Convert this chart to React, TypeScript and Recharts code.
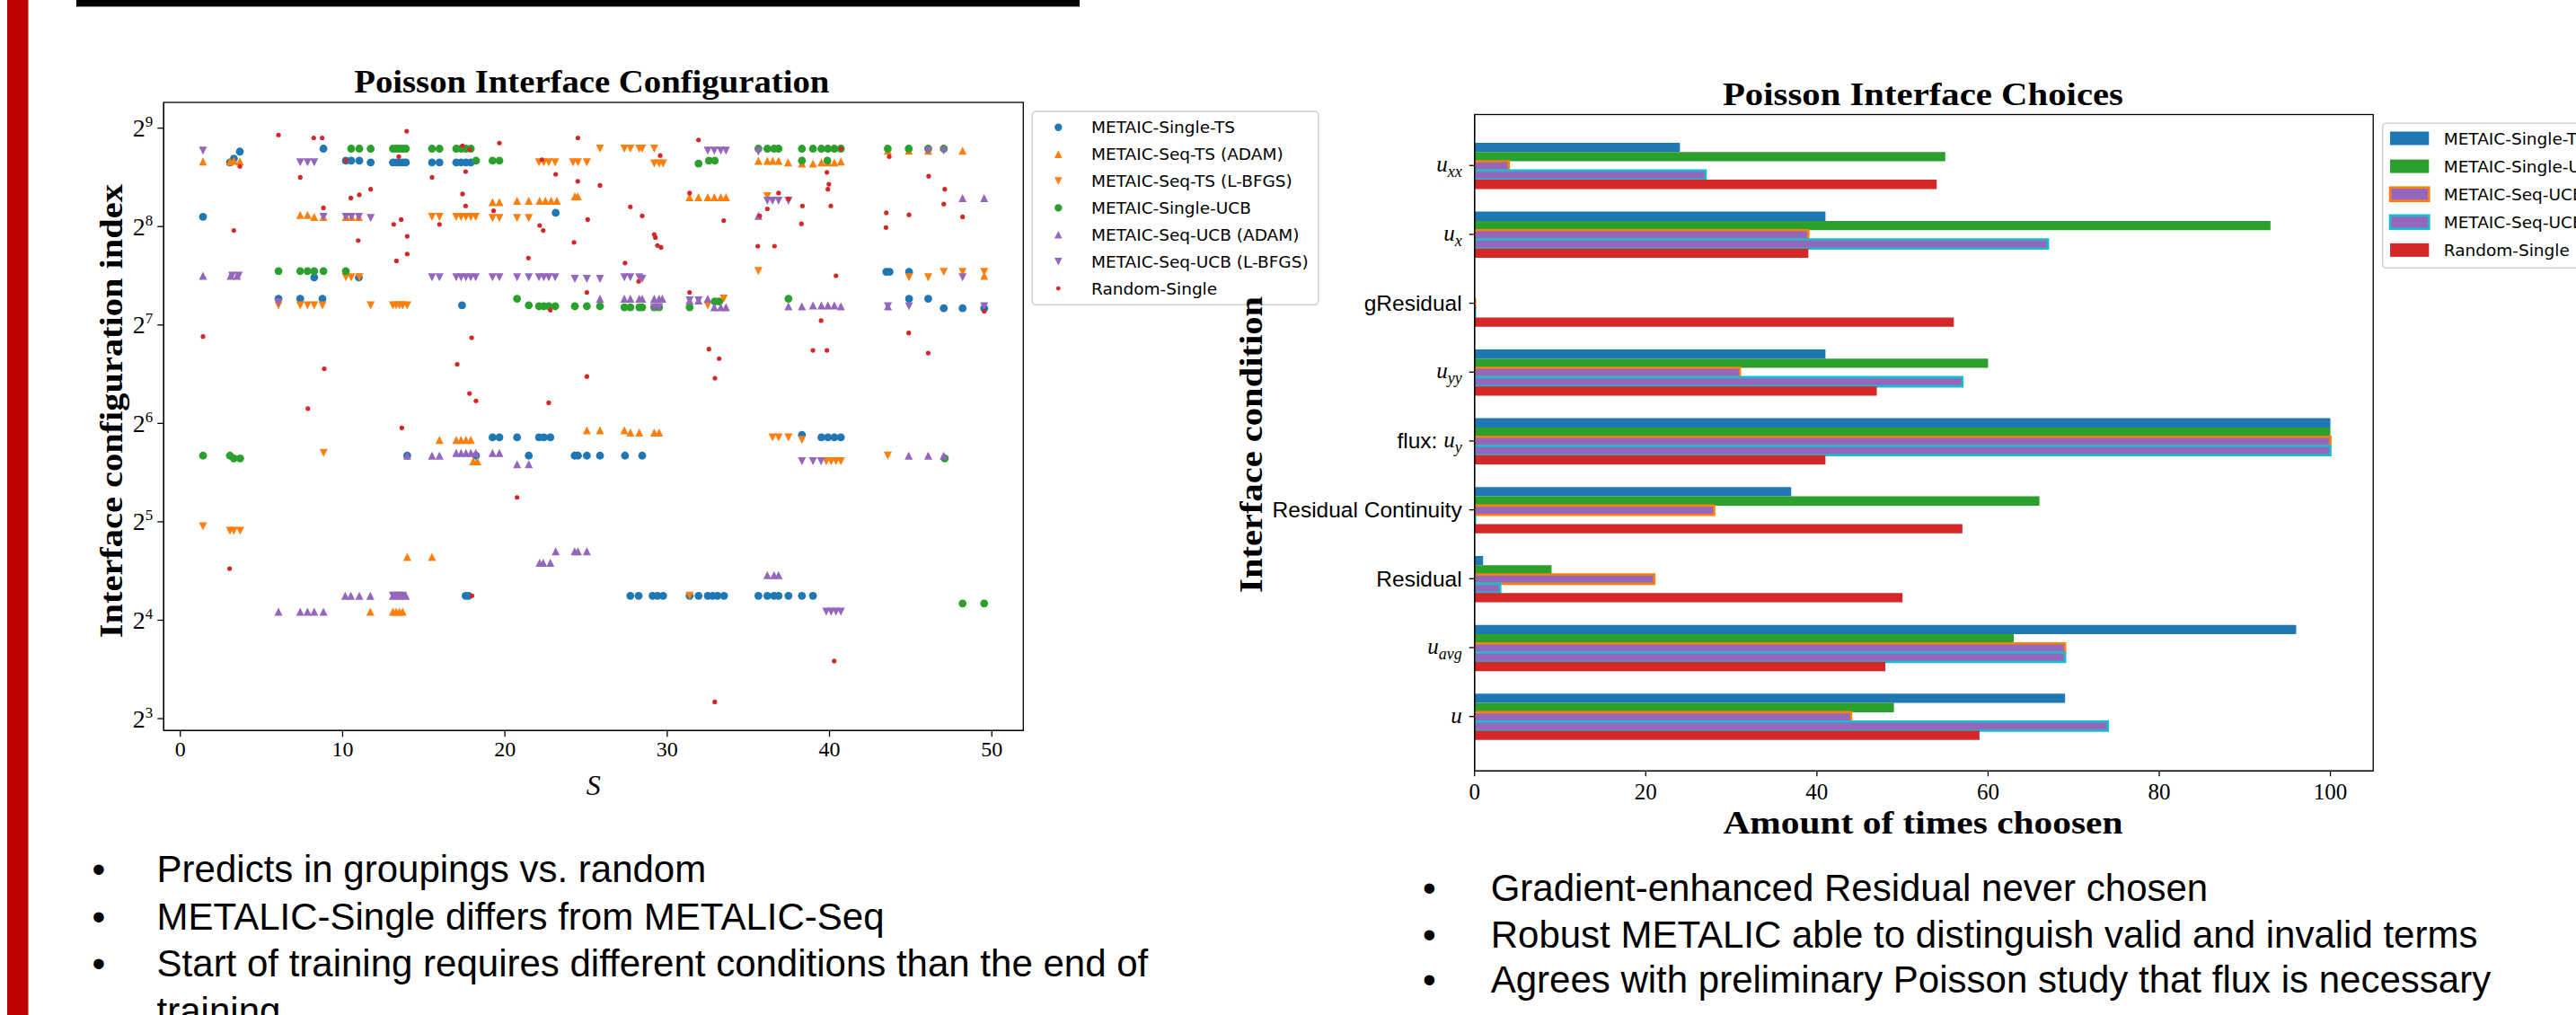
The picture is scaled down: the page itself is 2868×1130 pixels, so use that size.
import React from 'react';
import { ScatterChart, Scatter, XAxis, YAxis, BarChart, Bar } from 'recharts';

const SERIF = "'Liberation Serif', 'DejaVu Serif', serif";
const SANS = "'DejaVu Sans', sans-serif";
const ARIAL = "'Liberation Sans', Arial, sans-serif";

// ---------------- Left chart: Poisson Interface Configuration ----------------
const sTicks = [0, 10, 20, 30, 40, 50];
const idxTicks = [8, 16, 32, 64, 128, 256, 512];

// [S, configuration index]
const singleTS: number[][] = [
  [3.06, 402], [3.3, 413], [3.67, 434], [8.82, 443], [10.2, 407], [10.53, 407], [11.03, 407], [11.73, 402],
  [13.1, 402], [13.3, 402], [13.5, 402], [13.7, 402], [13.9, 402], [15.51, 402], [15.97, 402], [17.0, 402], [17.3, 402], [17.6, 402], [17.9, 402],
  [1.4, 274], [23.13, 282], [8.25, 179], [11.0, 179], [6.05, 154], [7.39, 154], [8.76, 154], [17.36, 147],
  [19.24, 58], [19.66, 58], [20.75, 58], [22.1, 58], [22.4, 58], [22.8, 58],
  [13.98, 51], [18.22, 51], [21.47, 51], [24.3, 51], [24.5, 51], [25.05, 51], [25.86, 51], [27.4, 51], [28.46, 51],
  [17.58, 19], [17.76, 19], [27.73, 19], [28.24, 19], [29.1, 19], [29.4, 19], [29.75, 19], [31.38, 19], [31.93, 19], [32.5, 19], [32.8, 19], [33.1, 19], [33.5, 19],
  [35.62, 19], [36.17, 19], [36.58, 19], [36.86, 19], [37.47, 19], [38.3, 19], [38.98, 19],
  [38.3, 59], [39.5, 58], [39.9, 58], [40.3, 58], [40.7, 58],
  [43.5, 186], [43.7, 186], [44.9, 186], [44.9, 154], [46.08, 154], [47.04, 144], [48.2, 144], [49.53, 144],
];
const seqTsAdam: number[][] = [
  [1.4, 405], [3.06, 405], [3.3, 407], [3.67, 405],
  [7.39, 278], [7.84, 278], [8.25, 274], [8.82, 274], [10.2, 274], [10.55, 274], [11.0, 274],
  [19.24, 304], [19.66, 304], [20.75, 307], [21.47, 307], [22.14, 307], [22.5, 307], [22.85, 307], [23.2, 307], [24.31, 317], [24.49, 317],
  [15.97, 57], [17.0, 57], [17.3, 57], [17.6, 57], [17.9, 57], [18.05, 49], [18.3, 49], [25.05, 61], [25.86, 61],
  [13.98, 25], [15.51, 25],
  [11.71, 17], [13.1, 17], [13.3, 17], [13.5, 17], [13.7, 17],
  [27.36, 61], [27.73, 60], [28.28, 60], [29.2, 60], [29.5, 60],
  [31.38, 315], [31.93, 315], [32.5, 315], [32.9, 315], [33.3, 315], [33.62, 315],
  [35.62, 407], [36.17, 407], [36.5, 407], [36.86, 407], [37.45, 402], [38.3, 399], [38.98, 399], [39.5, 402], [39.9, 402], [40.3, 402], [40.7, 405],
  [43.59, 437], [44.88, 437], [46.08, 437], [48.2, 437], [49.53, 181],
];
const seqTsLbfgs: number[][] = [
  [22.1, 402], [22.4, 402], [22.7, 402], [23.1, 402], [24.2, 402], [24.5, 402], [25.05, 402], [25.86, 443],
  [27.36, 443], [27.73, 443], [28.28, 443], [28.46, 443], [29.2, 443], [29.2, 399], [29.5, 399], [29.75, 399],
  [10.2, 179], [10.53, 179], [11.03, 179],
  [15.51, 274], [15.97, 274], [17.0, 274], [17.3, 274], [17.6, 274], [17.9, 274], [18.2, 274], [19.24, 272], [19.66, 272], [20.75, 272], [21.47, 272],
  [6.05, 147], [7.39, 147], [7.84, 147], [8.25, 147], [8.76, 147], [11.73, 147], [13.1, 147], [13.3, 147], [13.5, 147], [13.7, 147], [13.98, 147],
  [8.83, 52], [1.4, 31], [3.06, 30], [3.3, 30], [3.69, 30],
  [31.38, 19], [32.5, 147], [33.48, 154], [36.17, 317], [35.62, 187],
  [36.49, 58], [36.86, 58], [37.47, 58], [38.3, 57],
  [39.8, 49], [40.1, 49], [40.4, 49], [40.7, 49],
  [43.59, 51],
  [44.9, 179], [46.08, 179], [47.04, 186], [48.2, 186], [49.53, 186],
];
const singleUCB: number[][] = [
  [10.53, 443], [11.03, 443], [11.73, 443], [13.1, 443], [13.3, 443], [13.5, 443], [13.7, 443], [13.9, 443], [15.51, 443], [15.97, 443],
  [17.0, 443], [17.3, 443], [17.6, 443], [17.9, 443], [18.22, 407], [19.24, 407], [19.66, 407],
  [6.05, 187], [7.39, 187], [7.84, 187], [8.25, 187], [8.82, 187], [10.2, 187],
  [20.75, 154], [21.47, 147], [22.1, 146], [22.4, 146], [22.7, 146], [23.1, 146], [24.31, 146], [25.05, 146], [25.86, 146],
  [27.36, 145], [27.73, 145], [28.28, 145], [28.46, 145], [29.2, 145], [29.5, 145], [31.38, 145], [32.93, 151], [33.2, 151],
  [31.93, 399], [32.57, 407], [32.93, 407],
  [35.62, 443], [36.17, 443], [36.58, 443], [36.86, 443], [38.3, 443], [38.98, 443], [39.5, 443], [39.9, 443], [40.3, 443], [40.7, 443], [38.3, 407], [39.87, 407],
  [37.47, 154],
  [43.59, 443], [44.88, 443], [46.08, 443], [47.04, 443],
  [1.4, 51], [3.06, 51], [3.3, 50], [3.69, 50], [47.1, 50],
  [48.2, 18], [49.53, 18],
];
const seqUcbAdam: number[][] = [
  [1.4, 181], [3.1, 181], [3.5, 181],
  [25.86, 154], [27.36, 154], [27.73, 154], [28.28, 154], [28.46, 154], [29.2, 154], [29.5, 154], [29.7, 154],
  [31.38, 152], [31.93, 152], [32.5, 154], [32.9, 145], [33.3, 145], [33.62, 145],
  [37.47, 146], [38.3, 146], [38.98, 147], [39.5, 147], [39.9, 147], [40.3, 147], [40.7, 146],
  [43.6, 146], [35.62, 276], [48.2, 313], [49.53, 313],
  [13.98, 51], [15.51, 51], [15.97, 51], [17.0, 52], [17.3, 52], [17.6, 52], [17.9, 52], [18.2, 52], [19.24, 52], [19.66, 52], [20.75, 48], [21.47, 48],
  [44.88, 51], [46.08, 51], [47.04, 51],
  [22.14, 24], [22.36, 24], [22.8, 24], [23.13, 26], [24.3, 26], [24.5, 26], [25.05, 26],
  [36.17, 22], [36.58, 22], [36.86, 22],
  [10.16, 19], [10.51, 19], [11.03, 19], [11.71, 19], [13.1, 19], [13.5, 19], [13.9, 19],
  [6.05, 17], [7.39, 17], [7.84, 17], [8.25, 17], [8.82, 17],
];
const seqUcbLbfgs: number[][] = [
  [1.4, 437], [7.39, 402], [7.84, 402], [8.25, 402],
  [32.5, 437], [32.9, 437], [33.3, 437], [33.62, 437], [35.62, 434], [46.08, 437], [47.04, 437],
  [8.82, 274], [10.2, 274], [10.55, 274], [11.0, 274], [11.73, 272],
  [36.17, 307], [36.49, 307], [36.86, 307], [37.47, 307],
  [3.2, 181], [3.6, 181],
  [15.51, 179], [15.97, 179], [17.0, 179], [17.3, 179], [17.6, 179], [17.9, 179], [18.2, 179], [19.24, 179], [19.66, 179], [20.75, 179], [21.47, 179],
  [22.1, 179], [22.4, 179], [22.7, 179], [23.1, 179], [24.31, 177], [25.05, 177], [25.86, 177], [27.36, 179], [27.73, 179], [28.28, 179], [28.46, 177],
  [6.05, 150], [29.2, 145], [29.5, 145], [31.38, 152], [31.93, 152],
  [43.6, 146], [44.9, 146], [48.2, 179], [49.53, 146],
  [38.3, 49], [38.98, 49], [39.48, 49],
  [13.1, 19], [13.3, 19], [13.5, 19], [13.7, 19],
  [39.8, 17], [40.1, 17], [40.4, 17], [40.7, 17],
];
const randomSingle: number[][] = [
  [1.4, 118], [3.3, 249], [3.67, 391], [3.04, 23],
  [6.05, 488], [7.39, 362], [7.86, 71], [8.22, 478], [8.74, 478], [8.82, 292], [8.87, 94],
  [10.2, 407], [10.51, 313], [10.96, 232], [11.03, 320], [11.73, 333],
  [13.15, 260], [13.32, 201], [13.46, 419], [13.61, 269], [13.65, 62], [13.95, 501], [13.98, 239], [13.98, 211],
  [15.51, 362], [15.97, 260],
  [17.06, 97], [17.39, 452], [17.39, 322], [17.58, 377], [17.58, 296], [17.82, 440], [17.82, 79], [17.95, 117], [17.97, 19], [18.22, 75],
  [19.3, 286], [19.66, 461],
  [20.75, 38], [21.45, 205], [22.14, 258], [22.28, 410], [22.36, 249], [22.7, 74], [22.8, 142], [23.13, 370],
  [24.26, 229], [24.49, 352], [24.5, 478], [25.05, 161], [25.05, 89], [25.1, 269], [25.86, 342],
  [27.4, 198], [27.73, 294], [28.24, 174], [28.46, 276], [29.2, 242], [29.27, 237], [29.4, 224], [29.57, 422], [29.62, 221],
  [31.38, 324], [31.38, 161], [31.93, 471], [32.57, 108], [32.94, 88], [32.93, 9], [33.2, 101], [33.48, 267],
  [35.58, 223], [35.7, 276], [36.17, 290], [36.61, 223], [36.86, 324], [37.47, 311],
  [38.27, 261], [38.33, 296], [38.98, 107], [39.48, 132], [39.84, 375], [39.84, 107], [39.9, 333], [39.96, 345], [40.08, 296], [40.29, 12], [40.4, 181], [40.7, 443],
  [43.48, 254], [43.5, 282], [43.68, 419], [44.88, 121], [44.9, 278], [46.08, 105], [46.11, 365], [47.04, 300], [47.1, 333], [48.2, 274], [49.53, 141],
];

const scatterSeries = [
  { name: 'METAIC-Single-TS', pts: singleTS, color: '#1f77b4', kind: 'circle' },
  { name: 'METAIC-Seq-TS (ADAM)', pts: seqTsAdam, color: '#ff7f0e', kind: 'up' },
  { name: 'METAIC-Seq-TS (L-BFGS)', pts: seqTsLbfgs, color: '#ff7f0e', kind: 'down' },
  { name: 'METAIC-Single-UCB', pts: singleUCB, color: '#2ca02c', kind: 'circle' },
  { name: 'METAIC-Seq-UCB (ADAM)', pts: seqUcbAdam, color: '#9467bd', kind: 'up' },
  { name: 'METAIC-Seq-UCB (L-BFGS)', pts: seqUcbLbfgs, color: '#9467bd', kind: 'down' },
  { name: 'Random-Single', pts: randomSingle, color: '#d62728', kind: 'dot' },
];

// ---------------- Right chart: Poisson Interface Choices ----------------
const conditions = ['u_xx', 'u_x', 'gResidual', 'u_yy', 'flux: u_y', 'Residual Continuity', 'Residual', 'u_avg', 'u'];
const cntSingleTS = [24, 41, 0, 41, 100, 37, 1, 96, 69];
const cntSingleUCB = [55, 93, 0, 60, 100, 66, 9, 63, 49];
const cntSeqUcbAdam = [4, 39, 0, 31, 100, 28, 21, 69, 44];
const cntSeqUcbLbfgs = [27, 67, 0, 57, 100, 0, 3, 69, 74];
const cntRandom = [54, 39, 56, 47, 41, 57, 50, 48, 59];
const countTicks = [0, 20, 40, 60, 80, 100];

const barSeries = [
  { key: 'singleTS', name: 'METAIC-Single-TS', fill: '#1f77b4', edge: '' },
  { key: 'singleUCB', name: 'METAIC-Single-UCB', fill: '#2ca02c', edge: '' },
  { key: 'seqAdam', name: 'METAIC-Seq-UCB (ADAM)', fill: '#9467bd', edge: '#ff7f0e' },
  { key: 'seqLbfgs', name: 'METAIC-Seq-UCB (L-BFGS)', fill: '#9467bd', edge: '#17becf' },
  { key: 'random', name: 'Random-Single', fill: '#d62728', edge: '' },
];
const barData = conditions.map((c, i) => ({
  cond: c,
  singleTS: cntSingleTS[i],
  singleUCB: cntSingleUCB[i],
  seqAdam: cntSeqUcbAdam[i],
  seqLbfgs: cntSeqUcbLbfgs[i],
  random: cntRandom[i],
}));

// ---------------- layout ----------------
const L = { w: 1160, h: 900, mt: 114, mr: 20.7, ml: 82.3, mb: 26.7, yw: 100, xh: 60 };
const LP = { x: L.ml + L.yw, y: L.mt, w: L.w - L.mr - L.ml - L.yw, h: L.h - L.mt - L.mb - L.xh };
const R = { left: 1380, w: 1300, h: 1000, mt: 127.5, mr: 37.8, ml: 0, mb: 81.7, yw: 261.7, xh: 60 };
const RP = { x: R.left + R.ml + R.yw, y: R.mt, w: R.w - R.mr - R.ml - R.yw, h: R.h - R.mt - R.mb - R.xh };

function Marker({ kind, color, cx, cy, k = 1 }: any) {
  if (cx == null || cy == null) return <g />;
  if (kind === 'circle') return <circle cx={cx} cy={cy} r={4.4 * k} fill={color} />;
  if (kind === 'dot') return <circle cx={cx} cy={cy} r={2.6 * k} fill={color} />;
  const h = 4.5 * k;
  const d = kind === 'up'
    ? `M${cx},${cy - h}L${cx - h},${cy + h}L${cx + h},${cy + h}Z`
    : `M${cx},${cy + h}L${cx - h},${cy - h}L${cx + h},${cy - h}Z`;
  return <path d={d} fill={color} />;
}

const PowTick = (props: any) => {
  const { x, y, payload } = props;
  const n = Math.round(Math.log2(payload.value));
  return (
    <text x={x} y={y + 9.5} textAnchor="end" fill="#000" fontFamily={SERIF}>
      <tspan fontSize={28}>2</tspan>
      <tspan fontSize={17} dy={-11}>{n}</tspan>
    </text>
  );
};

const CondTick = (props: any) => {
  const { x, y, payload } = props;
  const v: string = payload.value;
  const m = v.match(/^(flux: )?u(?:_(\w+))?$/);
  if (!m) {
    return (
      <text x={x} y={y + 8.5} textAnchor="end" fill="#000" fontFamily={ARIAL} fontSize={24.5}>{v}</text>
    );
  }
  return (
    <text x={x} y={y + 7} textAnchor="end" fill="#000">
      {m[1] ? <tspan fontFamily={ARIAL} fontSize={24.5} dy={1.5}>{'flux:  '}</tspan> : null}
      <tspan fontFamily={SERIF} fontStyle="italic" fontSize={25} dy={m[1] ? -1.5 : 0}>u</tspan>
      {m[2] ? <tspan fontFamily={SERIF} fontStyle="italic" fontSize={18} dy={6}>{m[2]}</tspan> : null}
    </text>
  );
};

const axisStroke = { stroke: '#000', strokeWidth: 1.3 };

export default function App() {
  const leftLegendRows = scatterSeries.map((s, i) => ({ ...s, cy: 141.7 + 29.9 * i }));
  const rightLegendRows = barSeries.map((b, i) => ({ ...b, cy: 154 + 31.1 * i }));
  return (
    <div style={{ position: 'absolute', left: 0, top: 0, width: 2868, height: 1130, overflow: 'hidden', background: '#fff' }}>
      <div style={{ position: 'absolute', left: 0, top: 0 }}>
        <ScatterChart width={L.w} height={L.h} margin={{ top: L.mt, right: L.mr, left: L.ml, bottom: L.mb }}>
          <XAxis
            type="number" dataKey="s" domain={[-1.02, 51.94]} ticks={sTicks} allowDataOverflow interval={0}
            height={L.xh} tickSize={7} tickMargin={5} axisLine={axisStroke} tickLine={axisStroke}
            tick={{ fontSize: 24, fontFamily: SERIF, fill: '#000' }}
          />
          <YAxis
            type="number" dataKey="idx" scale="log" domain={[7.357, 613.7]} ticks={idxTicks} allowDataOverflow interval={0}
            width={L.yw} tickSize={7} tickMargin={5} axisLine={axisStroke} tickLine={axisStroke} tick={<PowTick />}
          />
          {scatterSeries.map((s) => (
            <Scatter
              key={s.name}
              name={s.name}
              data={s.pts.map((p) => ({ s: p[0], idx: p[1] }))}
              fill={s.color}
              isAnimationActive={false}
              shape={(p: any) => <Marker kind={s.kind} color={s.color} cx={p.cx} cy={p.cy} />}
            />
          ))}
        </ScatterChart>
      </div>

      <div style={{ position: 'absolute', left: R.left, top: 0 }}>
        <BarChart
          layout="vertical" width={R.w} height={R.h} data={barData}
          margin={{ top: R.mt, right: R.mr, left: R.ml, bottom: R.mb }}
          barSize={10.3} barGap={0}
        >
          <XAxis
            type="number" domain={[0, 105]} ticks={countTicks} allowDataOverflow interval={0}
            height={R.xh} tickSize={6} tickMargin={8} axisLine={axisStroke} tickLine={axisStroke}
            tick={{ fontSize: 25, fontFamily: SERIF, fill: '#000' }}
          />
          <YAxis
            type="category" dataKey="cond" width={R.yw} interval={0} padding={{ top: 18.4, bottom: 22.3 }}
            tickSize={6} tickMargin={8} axisLine={axisStroke} tickLine={axisStroke} tick={<CondTick />}
          />
          {barSeries.map((b) => (
            <Bar
              key={b.key}
              dataKey={b.key}
              name={b.name}
              fill={b.fill}
              stroke={b.edge || undefined}
              strokeWidth={b.edge ? 2.6 : 0}
              minPointSize={b.edge ? 0.5 : 0}
              isAnimationActive={false}
            />
          ))}
        </BarChart>
      </div>

      <svg style={{ position: 'absolute', left: 0, top: 0 }} width={2868} height={1130}>
        {/* slide decorations */}
        <rect x={8} y={0} width={23.5} height={1130} fill="#c00000" />
        <rect x={85} y={0} width={1117} height={7} fill="#000" />
        <line x1={85} x2={1202} y1={7.5} y2={7.5} stroke="#9a9a9a" strokeWidth={1} />

        {/* plot frames */}
        <rect x={LP.x} y={LP.y} width={LP.w} height={LP.h} fill="none" stroke="#000" strokeWidth={1.3} />
        <rect x={RP.x} y={RP.y} width={RP.w} height={RP.h} fill="none" stroke="#000" strokeWidth={1.3} />

        {/* left chart texts */}
        <text x={LP.x + LP.w / 2 - 2} y={103.3} textAnchor="middle" fontFamily={SERIF} fontWeight="bold" fontSize={35}
          textLength={529} lengthAdjust="spacingAndGlyphs">Poisson Interface Configuration</text>
        <text transform={`translate(136, ${LP.y + LP.h / 2 - 6}) rotate(-90)`} textAnchor="middle" fontFamily={SERIF}
          fontWeight="bold" fontSize={35} textLength={505} lengthAdjust="spacingAndGlyphs">Interface configuration index</text>
        <text x={LP.x + LP.w / 2} y={885} textAnchor="middle" fontFamily={SERIF} fontStyle="italic" fontSize={32}>S</text>

        {/* left legend */}
        <rect x={1149.3} y={124} width={318.5} height={215.3} rx={4} fill="#fff" fillOpacity={0.85} stroke="#d0d0d0" strokeWidth={1.5} />
        {leftLegendRows.map((r) => (
          <g key={r.name}>
            <Marker kind={r.kind} color={r.color} cx={1178.3} cy={r.cy} k={0.95} />
            <text x={1215} y={r.cy + 6.5} fontFamily={SANS} fontSize={18.5} fill="#000">{r.name}</text>
          </g>
        ))}

        {/* right chart texts */}
        <text x={RP.x + RP.w / 2 - 1} y={116.7} textAnchor="middle" fontFamily={SERIF} fontWeight="bold" fontSize={35}
          textLength={446} lengthAdjust="spacingAndGlyphs">Poisson Interface Choices</text>
        <text transform={`translate(1405, ${RP.y + RP.h / 2 + 2})  rotate(-90)`} textAnchor="middle" fontFamily={SERIF}
          fontWeight="bold" fontSize={35} textLength={330} lengthAdjust="spacingAndGlyphs">Interface condition</text>
        <text x={RP.x + RP.w / 2 - 1} y={928.3} textAnchor="middle" fontFamily={SERIF} fontWeight="bold" fontSize={35}
          textLength={445} lengthAdjust="spacingAndGlyphs">Amount of times choosen</text>

        {/* right legend */}
        <rect x={2652.7} y={137.3} width={300} height={161} rx={4} fill="#fff" fillOpacity={0.85} stroke="#d0d0d0" strokeWidth={1.5} />
        {rightLegendRows.map((r) => (
          <g key={r.key}>
            <rect x={2661} y={r.cy - 7.5} width={43.3} height={15} fill={r.fill}
              stroke={r.edge || 'none'} strokeWidth={r.edge ? 2.6 : 0} />
            <text x={2720.7} y={r.cy + 6.8} fontFamily={SANS} fontSize={18.5} fill="#000">{r.name}</text>
          </g>
        ))}

        {/* bullets left */}
        <g fontFamily={ARIAL} fontSize={42} fill="#000">
          <text x={102.6} y={982}>•</text>
          <text x={174.6} y={982}>Predicts in groupings vs. random</text>
          <text x={102.6} y={1034.5}>•</text>
          <text x={174.6} y={1034.5}>METALIC-Single differs from METALIC-Seq</text>
          <text x={102.6} y={1087}>•</text>
          <text x={174.6} y={1087}>Start of training requires different conditions than the end of</text>
          <text x={174.6} y={1139.5}>training</text>
        </g>
        {/* bullets right */}
        <g fontFamily={ARIAL} fontSize={42} fill="#000">
          <text x={1584} y={1003.3}>•</text>
          <text x={1659.7} y={1003.3}>Gradient-enhanced Residual never chosen</text>
          <text x={1584} y={1055}>•</text>
          <text x={1659.7} y={1055}>Robust METALIC able to distinguish valid and invalid terms</text>
          <text x={1584} y={1105}>•</text>
          <text x={1659.7} y={1105}>Agrees with preliminary Poisson study that flux is necessary</text>
        </g>
      </svg>
    </div>
  );
}
